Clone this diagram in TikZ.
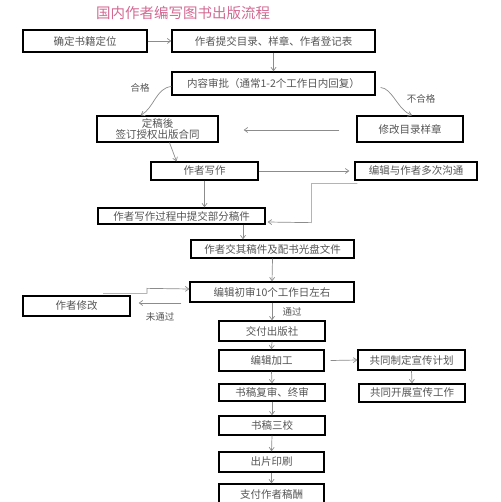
\documentclass[tikz,border=0pt]{standalone}
\usepackage{fontspec}
\setmainfont{Noto Sans CJK SC}
\usetikzlibrary{arrows.meta,calc}
\definecolor{txt}{RGB}{85,85,85}
\definecolor{ln}{RGB}{140,140,140}
\definecolor{ttl}{RGB}{210,105,145}
\begin{document}
\begin{tikzpicture}[x=1pt,y=-1pt,
  box/.style={draw=black,line width=1.3pt,fill=white,inner sep=0pt,text=txt,font=\fontsize{10.5}{11}\selectfont,align=center},
  arr/.style={draw=ln,line width=0.7pt,-{Straight Barb[length=3.5pt,width=5pt]}},
  lbl/.style={text=txt,font=\fontsize{9.5}{10}\selectfont,inner sep=0pt}]
\useasboundingbox (0,0) rectangle (500,502);
\node[text=ttl,font=\fontsize{14.5}{15}\selectfont,inner sep=0pt] (title) at (183,13) {国内作者编写图书出版流程};
\node[box,minimum width=124,minimum height=22] (n1) at (85,41) {确定书籍定位};
\node[box,minimum width=203,minimum height=22] (n2) at (273.5,41) {作者提交目录、样章、作者登记表};
\node[box,minimum width=203,minimum height=23] (n3) at (273.5,83.5) {内容审批（通常1-2个工作日内回复）};
\node[box,minimum width=121,minimum height=26,font=\fontsize{10.5}{11.5}\selectfont] (n4) at (157.5,129) {定稿後\\签订授权出版合同};
\node[box,minimum width=106,minimum height=26] (n5) at (410,129) {修改目录样章};
\node[box,minimum width=107,minimum height=18] (n6) at (204.5,171) {作者写作};
\node[box,minimum width=122,minimum height=18] (n7) at (416,171) {编辑与作者多次沟通};
\node[box,minimum width=167,minimum height=16] (n8) at (181.5,216) {作者写作过程中提交部分稿件};
\node[box,minimum width=163,minimum height=18] (n9) at (272.5,249) {作者交其稿件及配书光盘文件};
\node[box,minimum width=164,minimum height=20] (n10) at (272,292) {编辑初审10个工作日左右};
\node[box,minimum width=107,minimum height=20] (n11) at (76.5,306) {作者修改};
\node[box,minimum width=106,minimum height=20] (n12) at (272,331) {交付出版社};
\node[box,minimum width=105,minimum height=21] (n13) at (271.5,360.5) {编辑加工};
\node[box,minimum width=107,minimum height=20] (n14) at (411.5,360) {共同制定宣传计划};
\node[box,minimum width=106,minimum height=18] (n15) at (412,393) {共同开展宣传工作};
\node[box,minimum width=106,minimum height=17] (n16) at (272,392.5) {书稿复审、终审};
\node[box,minimum width=106,minimum height=19] (n17) at (272,425.5) {书稿三校};
\node[box,minimum width=105,minimum height=20] (n18) at (271.5,462) {出片印刷};
\node[box,minimum width=105,minimum height=20] (n19) at (271.5,494) {支付作者稿酬};
% connectors
\draw[arr] (n1.east) -- (n2.west);
\draw[arr] (n2.south) -- (n3.north);
\draw[arr] ([yshift=-3pt]n3.west) .. controls (156,88) and (154,108) .. ([xshift=-17pt]n4.north);
\node[lbl] (l1) at (140,88) {合格};
\draw[arr] ([xshift=5pt,yshift=-4pt]n3.east) .. controls (392,88) and (398,110) .. ([xshift=2pt]n5.north);
\node[lbl] (l2) at (421,99) {不合格};
\draw[arr] ([xshift=-17pt,yshift=-1pt]n5.west) -- ([xshift=25pt,yshift=-1pt]n4.east);
\draw[arr] ([xshift=12pt]n4.south) -- ([xshift=-28pt]n6.north);
\draw[arr] (n6.east) -- ([xshift=-5pt]n7.west);
\draw[arr] ([xshift=3pt,yshift=-3pt]n7.south west) -- ++(-46,0) -- ++(0,39) -- ([xshift=2pt,yshift=-6pt]n8.east);
\draw[arr] (n6.south) -- (n6.south |- n8.north);
\draw[arr] ([xshift=-29.5pt]n9.north |- n8.south) -- ([xshift=-29.5pt]n9.north);
\draw[arr] (n9.south) -- (n10.north);
\draw[arr] ([xshift=26.5pt,yshift=2pt]n11.north) -- ++(44,0) -- ++(0,-5) -- ([yshift=3pt]n10.west);
\draw[arr] ([xshift=-8pt,yshift=-11pt]n10.west) -- ([xshift=8pt,yshift=3pt]n11.east);
\node[lbl] (l3) at (160,317) {未通过};
\draw[arr] (n10.south) -- (n12.north);
\node[lbl] (l4) at (292,312) {通过};
\draw[arr] (n12.south) -- (n13.north);
\draw[arr] ([xshift=6pt]n13.east) -- (n14.west);
\draw[arr] (n14.south) -- (n15.north);
\draw[arr] (n13.south) -- (n16.north);
\draw[arr] (n16.south) -- (n17.north);
\draw[arr] (n17.south) -- (n18.north);
\draw[arr] (n18.south) -- (n19.north);
\end{tikzpicture}
\end{document}
